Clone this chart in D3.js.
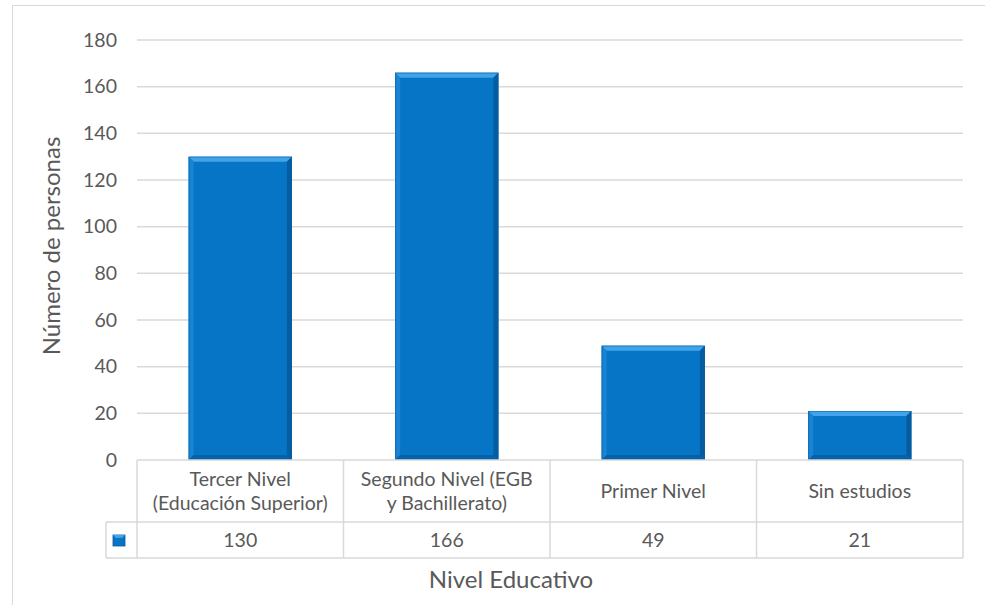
<!DOCTYPE html>
<html>
<head>
<meta charset="utf-8">
<script src="https://cdn.jsdelivr.net/npm/d3@7/dist/d3.min.js"></script>
<style>
  html, body { margin: 0; padding: 0; background: #fff; }
  svg { display: block; font-family: Lato, "Open Sans", sans-serif; }
</style>
</head>
<body>
<svg id="chart" width="986" height="605"></svg>
<script>
// Nivel educativo de la población encuestada
const categories = [
  ["Tercer Nivel", "(Educación Superior)"],
  ["Segundo Nivel (EGB", "y Bachillerato)"],
  ["Primer Nivel"],
  ["Sin estudios"]
];
const values = [130, 166, 49, 21];
const yTicks = [0, 20, 40, 60, 80, 100, 120, 140, 160, 180];

const svg = d3.select("#chart");
const plotLeft = 137, plotRight = 963, plotTop = 40, base = 460;
const row1 = 522, row2 = 558, keyLeft = 106;
const grid = "#d9d9d9", textCol = "#595959";
const labelSize = 19.5, titleSize = 24;

const keys = categories.map((c, i) => i);
const x = d3.scaleBand().domain(keys).range([plotLeft, plotRight]).paddingInner(0).paddingOuter(0);
const y = d3.scaleLinear().domain([0, 180]).range([base, plotTop]);

// chart frame
svg.append("path").attr("d", "M12.5,605 V5.5 H985").attr("fill", "none")
  .attr("stroke", grid).attr("stroke-width", 1);

// y axis labels
const yAxis = d3.axisLeft(y).tickValues(yTicks).tickSize(0).tickPadding(20);
const gy = svg.append("g").attr("transform", `translate(${plotLeft},0)`).call(yAxis);
gy.select(".domain").remove();
gy.selectAll(".tick text").attr("fill", textCol).attr("font-size", labelSize).attr("font-family", "Lato, sans-serif");

// horizontal gridlines
svg.append("g").selectAll("line").data(yTicks.filter(t => t > 0)).join("line")
  .attr("x1", plotLeft).attr("x2", plotRight)
  .attr("y1", d => y(d)).attr("y2", d => y(d))
  .attr("stroke", grid).attr("stroke-width", 1.5);

// bevelled bars
const bw = x.bandwidth() * 0.5;
const bev = 5;
const bars = svg.append("g").selectAll("g").data(values).join("g")
  .attr("transform", (d, i) => `translate(${x(i) + (x.bandwidth() - bw) / 2},${y(d)})`);
bars.each(function (d) {
  const g = d3.select(this);
  const w = bw, h = base - y(d);
  g.append("rect").attr("width", w).attr("height", h).attr("fill", "#0675c6");
  g.append("path").attr("d", `M0,0 H${w} L${w - bev},${bev} H${bev} Z`).attr("fill", "#3fa4ea");
  g.append("path").attr("d", `M0,0 L${bev},${bev} V${h - bev} L0,${h} Z`).attr("fill", "#1a84d4");
  g.append("path").attr("d", `M${w},0 L${w - bev},${bev} V${h - bev} L${w},${h} Z`).attr("fill", "#045da1");
  g.append("path").attr("d", `M0,${h} L${bev},${h - bev} H${w - bev} L${w},${h} Z`).attr("fill", "#0562a9");
  g.append("rect").attr("x", 0.5).attr("y", 0.5).attr("width", w - 1).attr("height", h - 1)
    .attr("fill", "none").attr("stroke", "#0a5a98").attr("stroke-width", 1).attr("stroke-opacity", 0.5);
});

// data table
const t = svg.append("g").attr("stroke", grid).attr("stroke-width", 1.5).attr("fill", "none");
t.append("line").attr("x1", plotLeft).attr("x2", plotRight).attr("y1", base).attr("y2", base);
t.append("line").attr("x1", keyLeft).attr("x2", plotRight).attr("y1", row1).attr("y2", row1);
t.append("line").attr("x1", keyLeft).attr("x2", plotRight).attr("y1", row2).attr("y2", row2);
t.append("line").attr("x1", keyLeft).attr("x2", keyLeft).attr("y1", row1).attr("y2", row2);
t.selectAll("line.v").data(keys.concat([keys.length])).join("line").attr("class", "v")
  .attr("x1", d => d < keys.length ? x(d) : plotRight).attr("x2", d => d < keys.length ? x(d) : plotRight)
  .attr("y1", base).attr("y2", row2);

// category labels
const lab = svg.append("g").attr("fill", textCol).attr("font-size", labelSize).attr("text-anchor", "middle");
categories.forEach((lines, i) => {
  const cx = x(i) + x.bandwidth() / 2;
  const mid = (base + row1) / 2;
  lines.forEach((s, j) => {
    lab.append("text").attr("x", cx)
      .attr("y", mid + (j - (lines.length - 1) / 2) * 24)
      .attr("dy", "0.35em").text(s);
  });
});
// values row
svg.append("g").attr("fill", textCol).attr("font-size", labelSize).attr("text-anchor", "middle")
  .selectAll("text").data(values).join("text")
  .attr("x", (d, i) => x(i) + x.bandwidth() / 2).attr("y", (row1 + row2) / 2)
  .attr("dy", "0.35em").text(d => d);

// legend key
const kg = svg.append("g").attr("transform", "translate(113,535)");
kg.append("rect").attr("width", 12).attr("height", 11).attr("fill", "#0675c6").attr("stroke", "#0a5a98").attr("stroke-width", 0.8);
kg.append("path").attr("d", "M0,0 H12 L9,3 H3 Z").attr("fill", "#3fa4ea");

// axis titles
svg.append("text").attr("x", (plotLeft + plotRight) / 2 - 39).attr("y", 580).attr("dy", "0.35em")
  .attr("text-anchor", "middle").attr("fill", textCol).attr("font-size", titleSize).text("Nivel Educativo");
svg.append("text").attr("transform", `translate(52,${(plotTop + base) / 2 - 4}) rotate(-90)`)
  .attr("dy", "0.35em").attr("text-anchor", "middle").attr("fill", textCol).attr("font-size", titleSize)
  .text("Número de personas");
</script>
</body>
</html>
